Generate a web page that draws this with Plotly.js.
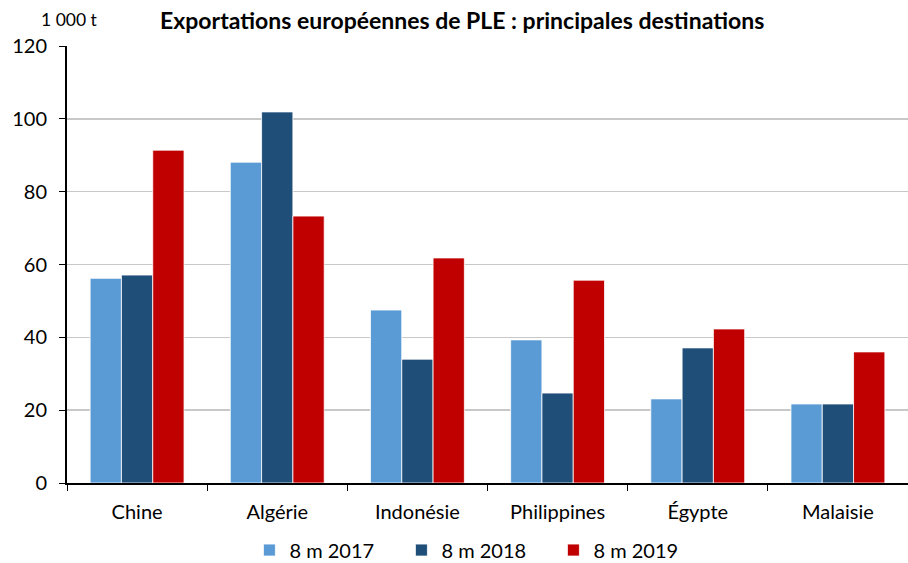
<!DOCTYPE html>
<html><head><meta charset="utf-8">
<script src="https://cdn.plot.ly/plotly-3.0.1.min.js"></script>
<style>body{margin:0;padding:0;background:#fff}#chart{width:908px;height:563px}</style>
</head><body><div id="chart"></div>
<script>
const categories = ["Chine", "Algérie", "Indonésie", "Philippines", "Égypte", "Malaisie"];
const seriesNames = ["8 m 2017", "8 m 2018", "8 m 2019"];
const v2017 = [56.2, 88.1, 47.5, 39.3, 23.1, 21.7];
const v2018 = [57.1, 101.9, 34.0, 24.7, 37.1, 21.7];
const v2019 = [91.4, 73.3, 61.8, 55.7, 42.3, 36.0];
const colors = ["#5B9BD5", "#1F4E79", "#C00000"];
const yTicks = [0, 20, 40, 60, 80, 100, 120];

const FONT = "Lato, 'Liberation Sans', sans-serif";
const vals = [v2017, v2018, v2019];
const traces = vals.map((v, i) => ({
  type: "bar", name: seriesNames[i], x: categories, y: v,
  marker: {color: colors[i], line: {color: "#ffffff", width: 0.8}},
  hoverinfo: "x+y"
}));
const layout = {
  width: 908, height: 563,
  margin: {l: 67, r: 0, t: 46, b: 80, autoexpand: false},
  paper_bgcolor: "#fff", plot_bgcolor: "#fff",
  font: {family: FONT, size: 20, color: "#000"},
  barmode: "group", bargap: 0.33, bargroupgap: 0,
  title: {text: "<b>Exportations européennes de PLE : principales destinations</b>",
    x: 0.509, xanchor: "center", y: 0.963, yanchor: "middle",
    font: {family: FONT, size: 23, color: "#000"}},
  xaxis: {type: "category", showline: true, linecolor: "#000", linewidth: 2,
    ticks: "outside", ticklen: 6, tickcolor: "#000", tickson: "boundaries",
    ticklabelstandoff: 10,
    showgrid: false, tickfont: {family: FONT, size: 20}, fixedrange: true},
  yaxis: {range: [0, 120], tickvals: yTicks, ticktext: yTicks.map(String),
    showline: true, linecolor: "#000", linewidth: 2, ticks: "outside", ticklen: 6,
    ticklabelstandoff: 8,
    tickcolor: "#000", showgrid: true, gridcolor: "#c8c8c8", gridwidth: 1.5,
    zeroline: false, tickfont: {family: FONT, size: 20}, fixedrange: true},
  legend: {orientation: "h", x: 0.488, xanchor: "center", xref: "paper",
    yref: "container", y: 0.023, yanchor: "middle", font: {family: FONT, size: 20},
    bgcolor: "rgba(0,0,0,0)",
    traceorder: "normal", itemwidth: 30, entrywidth: 107},
  annotations: [{text: "1 000 t", xref: "paper", yref: "paper", x: -0.033, y: 1.06,
    xanchor: "left", yanchor: "middle", showarrow: false,
    font: {family: FONT, size: 17.5, color: "#000"}}],
  showlegend: true
};
Plotly.newPlot("chart", traces, layout, {displayModeBar: false, staticPlot: true});
</script></body></html>
